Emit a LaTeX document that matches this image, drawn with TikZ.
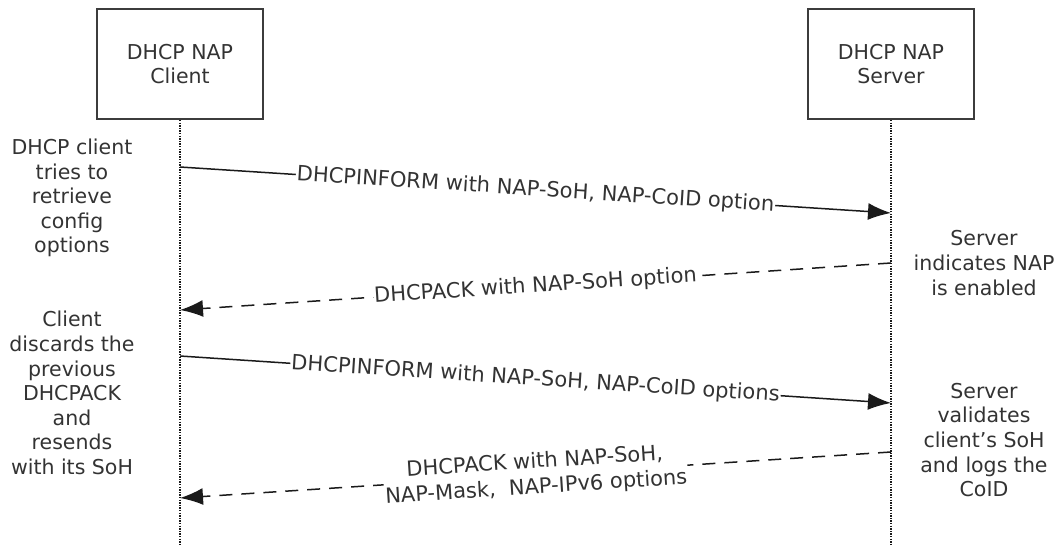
\documentclass[tikz,border=0pt]{standalone}
\usepackage{fontspec}
\setmainfont{DejaVu Sans}
\usetikzlibrary{arrows.meta}
\definecolor{ink}{HTML}{333333}
\definecolor{stroke}{HTML}{1A1A1A}
\begin{document}
\begin{tikzpicture}[x=1pt,y=-1pt,
  every node/.style={font=\fontsize{20.5}{24.6}\selectfont, text=ink},
  actor/.style={draw=stroke!85!white, line width=2pt, minimum width=166pt, minimum height=110pt, align=center},
  lifeline/.style={draw=stroke, line width=1.3pt, dash pattern=on 1.3pt off 1.3pt},
  msg/.style={draw=stroke, line width=1.5pt, -{Latex[length=23pt,width=17pt]}},
  reply/.style={msg, dash pattern=on 13pt off 9pt},
  lbl/.style={fill=white, inner sep=1pt, sloped, pos=0.5, align=center, font=\fontsize{21}{25.5}\selectfont},
  note/.style={align=center, inner sep=0pt}]
\useasboundingbox (0,0) rectangle (1060,546);
\node[actor] (client) at (180,64) {DHCP NAP\\Client};
\node[actor] (server) at (891,64) {DHCP NAP\\Server};
\coordinate (cb) at (180,546);
\coordinate (sb) at (891,546);
\draw[lifeline] (client.south) -- (cb);
\draw[lifeline] (server.south) -- (sb);
\coordinate (c1) at (180,167); \coordinate (s1) at (891,213);
\coordinate (s2) at (891,263); \coordinate (c2) at (180,310);
\coordinate (c3) at (180,356); \coordinate (s3) at (891,403);
\coordinate (s4) at (891,452); \coordinate (c4) at (180,498);
\draw[msg] (c1) -- node[lbl] {DHCPINFORM with NAP-SoH, NAP-CoID option} (s1);
\draw[reply] (s2) -- node[lbl] {DHCPACK with NAP-SoH option} (c2);
\draw[msg] (c3) -- node[lbl] {DHCPINFORM with NAP-SoH, NAP-CoID options} (s3);
\draw[reply] (s4) -- node[lbl] {DHCPACK with NAP-SoH,\\NAP-Mask,\ \ NAP-IPv6 options} (c4);
\node[note] (n1) at (72,198) {DHCP client\\tries to\\retrieve\\config\\options};
\node[note] (n2) at (72,393) {Client\\discards the\\previous\\DHCPACK\\and\\resends\\with its SoH};
\node[note] (n3) at (984,263) {Server\\indicates NAP\\is enabled};
\node[note] (n4) at (984,440) {Server\\validates\\client's SoH\\and logs the\\CoID};
\end{tikzpicture}
\end{document}
